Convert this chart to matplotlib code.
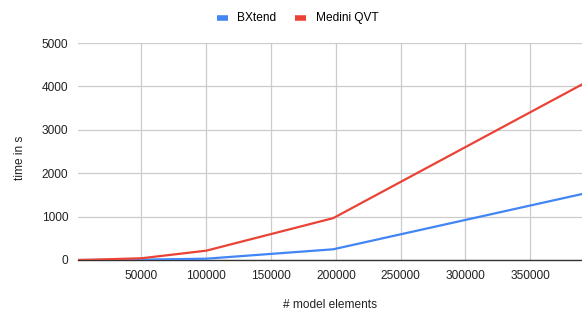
import matplotlib
matplotlib.use('Agg')
import matplotlib.pyplot as plt

plt.rcParams['font.family'] = ['Liberation Sans', 'DejaVu Sans']

# data
elements = [1000, 10000, 50000, 100000, 198000, 390000]
bxtend = [0, 2, 8, 30, 247, 1520]
medini = [0, 5, 40, 215, 965, 4045]

series_names = ['BXtend', 'Medini QVT']
colors = ['#4285F4', '#EA4335']
x_ticks = [50000, 100000, 150000, 200000, 250000, 300000, 350000]
y_ticks = [0, 1000, 2000, 3000, 4000, 5000]

fs = 8.6
fig = plt.figure(figsize=(5.82, 3.2), dpi=100)
ax = fig.add_axes([78/582, 1 - 260/320, 1 - 78/582, 217/320])

ax.plot(elements, bxtend, color=colors[0], lw=1.6, label=series_names[0])
ax.plot(elements, medini, color=colors[1], lw=1.6, label=series_names[1])

ax.set_xlim(elements[0], elements[-1])
ax.set_ylim(0, 5000)
ax.set_xticks(x_ticks)
ax.set_yticks(y_ticks)
ax.set_xticklabels([str(t) for t in x_ticks])
ax.set_yticklabels([str(t) for t in y_ticks])

ax.grid(True, color='#cccccc', lw=0.9)
ax.set_axisbelow(True)
for side in ['top', 'right', 'left']:
    ax.spines[side].set_visible(False)
ax.spines['bottom'].set_color('#333333')
ax.spines['bottom'].set_linewidth(1.0)
ax.spines['bottom'].set_zorder(1)
ax.tick_params(length=0, labelsize=fs, colors='#222222', pad=7)

ax.set_xlabel('# model elements', fontsize=fs, color='#222222')
ax.set_ylabel('time in s', fontsize=fs, color='#222222')
ax.xaxis.set_label_coords(0.5, -0.207)
ax.yaxis.set_label_coords(-0.115, 0.47)
ax.xaxis.label.set_va('center')
ax.yaxis.label.set_va('center')

ax.legend(loc='center', bbox_to_anchor=(0.4355, 1.115), ncol=2, frameon=False,
          fontsize=fs, handlelength=0.9, handleheight=0.3, columnspacing=1.6,
          handletextpad=0.8)
leg = ax.get_legend()
for h in leg.get_lines():
    h.set_linewidth(4)
    h.set_solid_capstyle('butt')

fig.savefig('out.png', dpi=100)
